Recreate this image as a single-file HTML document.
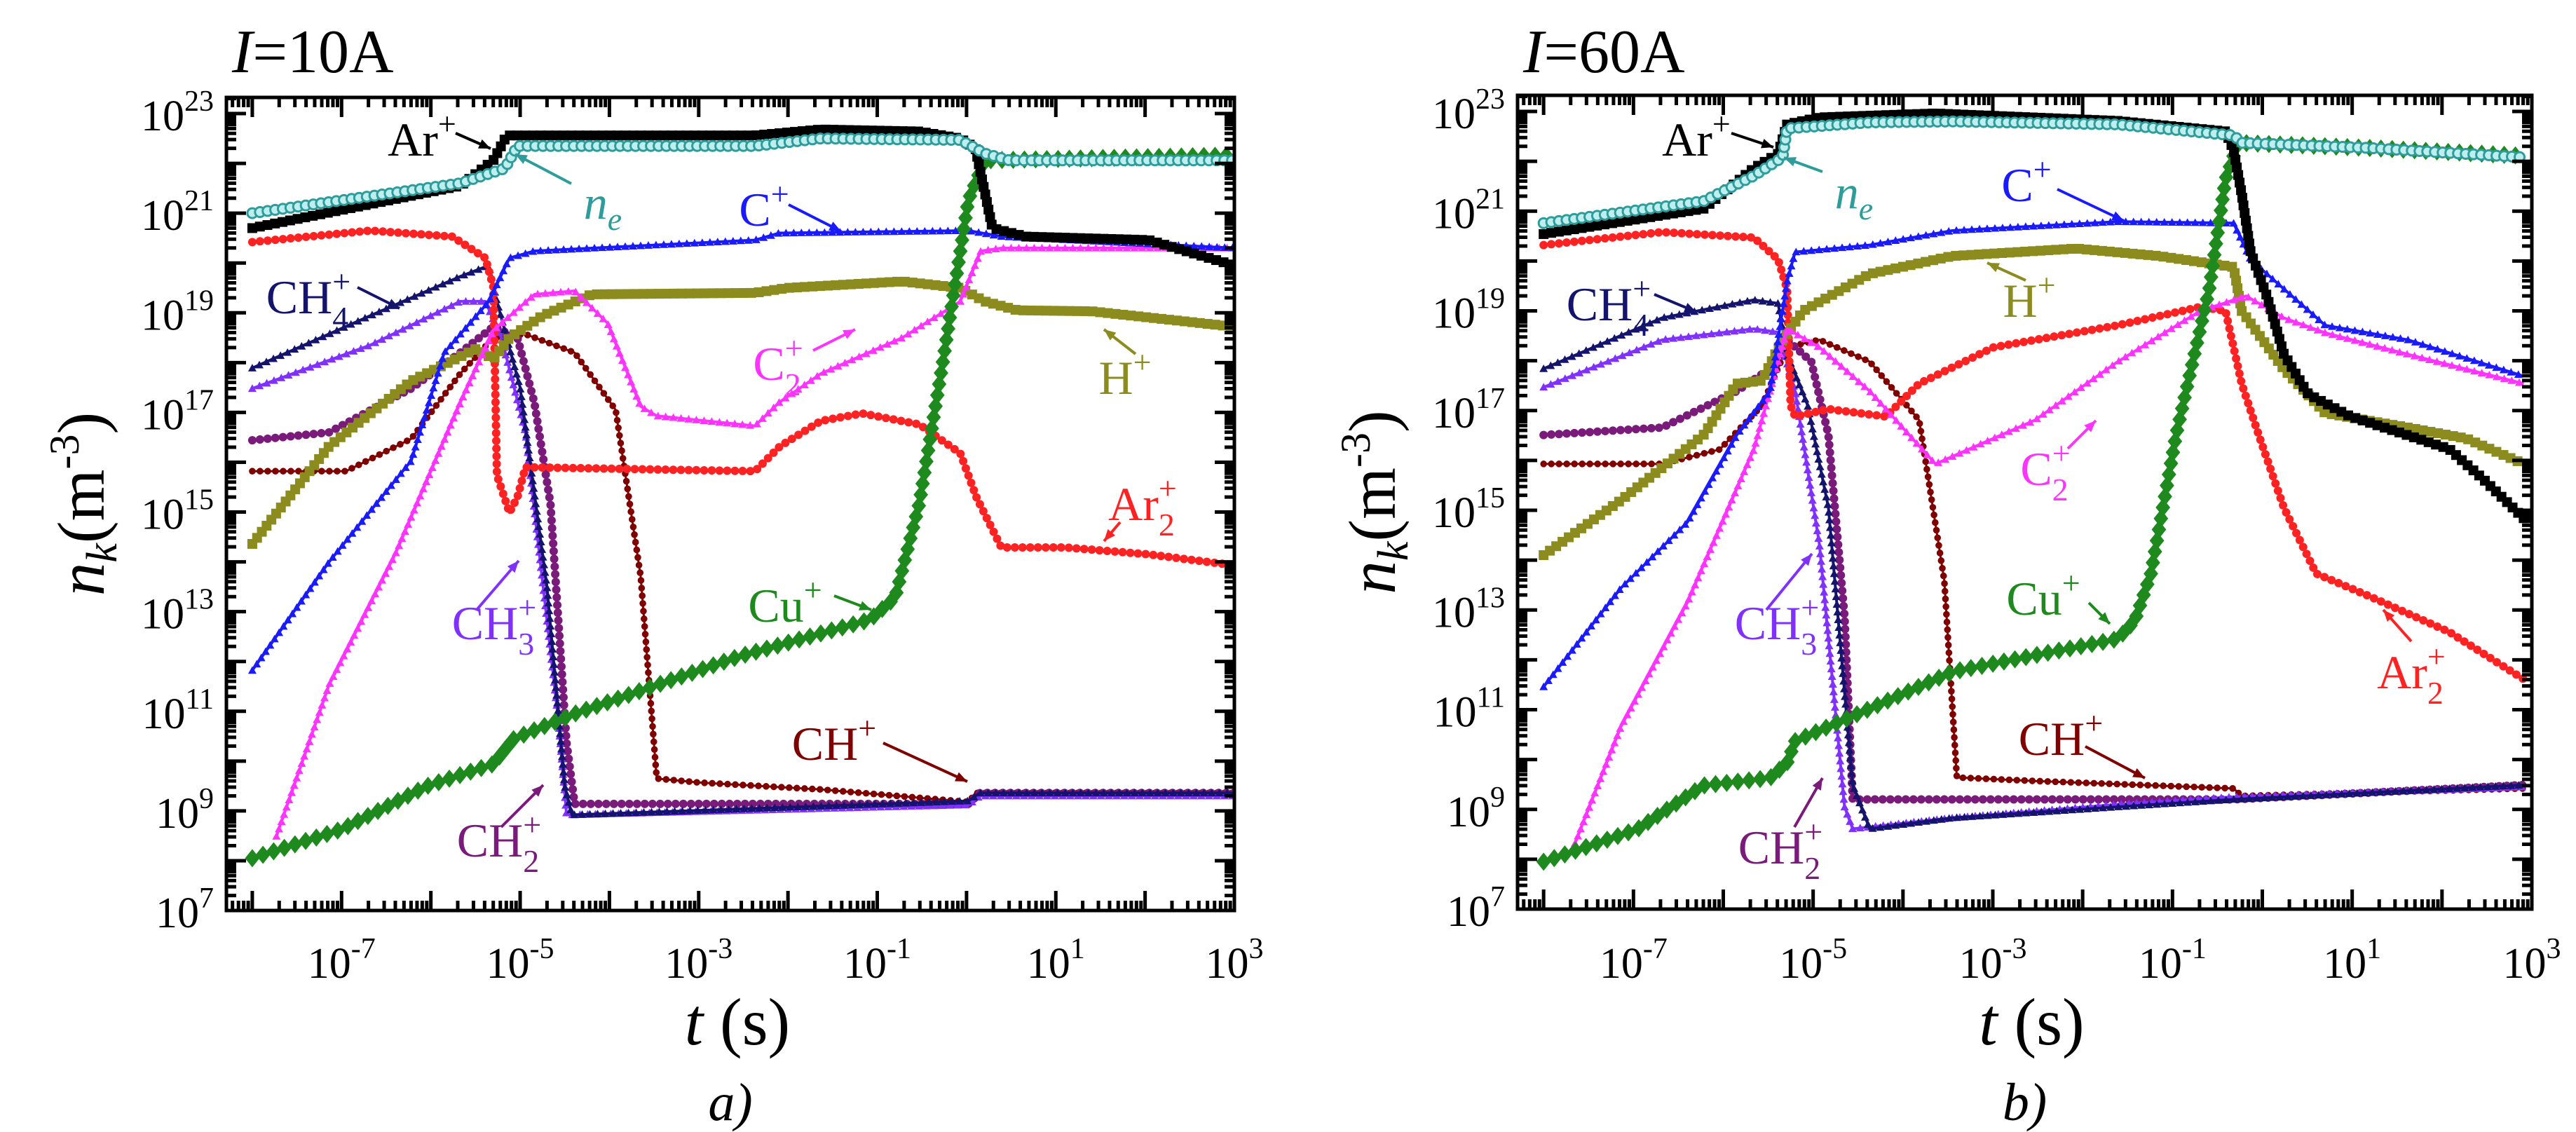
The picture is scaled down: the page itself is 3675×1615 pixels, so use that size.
<!DOCTYPE html>
<html><head><meta charset="utf-8">
<style>
html,body{margin:0;padding:0;background:#fff;}
svg{display:block;}
svg text{font-family:"Liberation Serif","DejaVu Serif",serif;}
</style></head>
<body>
<svg id="fig" xmlns="http://www.w3.org/2000/svg" width="3675" height="1615" viewBox="0 0 3675 1615" font-family="Liberation Serif, DejaVu Serif, serif">
<rect width="3675" height="1615" fill="#fff"/>
</svg>
<script>
// ===== data: [log10 t, log10 n] =====
const a_Arp = [[-8,20.7],[-5.67,21.55],[-5.3,22.06],[-5.15,22.56],[-2.37,22.56],[-1.63,22.68],[-0.53,22.64],[-0.07,22.5],[0.1,22.3],[0.29,20.7],[0.66,20.53],[2.04,20.46],[3,19.95]];
const a_ne = [[-8,21.0],[-5.67,21.6],[-5.17,21.9],[-5.03,22.35],[-2.37,22.35],[-1.63,22.5],[-0.07,22.47],[0.2,22.2],[0.48,22.06],[3,22.06]];
const a_Cu = [[-8,8.05],[-7,8.63],[-6.04,9.5],[-5.3,9.94],[-5.07,10.45],[-4.39,10.95],[-2.55,12.1],[-1.08,12.84],[-0.8,13.28],[-0.53,15.16],[-0.26,18.07],[0.02,21.26],[0.2,22.06],[3,22.16]];
const a_Cp = [[-8,11.82],[-7.14,14.0],[-6.22,16.03],[-5.85,18.2],[-5.35,19.23],[-5.12,20.1],[-4.84,20.24],[-2.37,20.46],[-2.1,20.6],[0.02,20.65],[0.4,20.53],[3,20.3]];
const a_C2 = [[-7.73,8.49],[-7.14,11.53],[-6.4,14.15],[-5.67,17.2],[-5.3,18.65],[-4.84,19.37],[-4.39,19.44],[-4.02,18.79],[-3.65,17.12],[-3.47,16.93],[-2.37,16.73],[-2.1,17.2],[-1.63,17.78],[-0.72,18.5],[-0.07,19.23],[0.16,20.24],[0.4,20.3],[3,20.3]];
const a_H = [[-8,14.36],[-7.14,16.32],[-6.22,17.63],[-5.49,18.28],[-5.3,18.07],[-5.12,18.5],[-4.75,18.94],[-4.2,19.37],[-2.37,19.4],[-2,19.5],[-0.72,19.63],[-0.07,19.5],[0.2,19.23],[0.57,19.05],[1.4,19.03],[3,18.72]];
const a_Ar2 = [[-8,20.42],[-6.68,20.65],[-5.76,20.53],[-5.39,20.1],[-5.3,19.52],[-5.26,15.74],[-5.12,14.99],[-5.03,15.3],[-4.94,15.9],[-2.37,15.82],[-2.09,16.32],[-1.63,16.83],[-1.17,16.98],[-0.53,16.76],[-0.07,16.18],[0.11,15.3],[0.39,14.29],[1.1,14.29],[2.04,14.15],[3,13.93]];
const a_CH4 = [[-8,17.89],[-6.68,18.94],[-5.67,19.73],[-5.35,19.95],[-5.26,19.23],[-5.0,17.5],[-4.7,13.5],[-4.5,9.5],[-4.42,8.92],[0.02,9.2],[0.15,9.36],[3,9.36]];
const a_CH3 = [[-8,17.48],[-6.68,18.35],[-5.67,19.23],[-5.39,19.23],[-5.21,18.5],[-4.94,16.6],[-4.57,10.8],[-4.48,8.92],[0.02,9.12],[0.15,9.3],[3,9.3]];
const a_CH2 = [[-8,16.44],[-7.14,16.6],[-6.22,17.48],[-5.67,18.2],[-5.3,18.72],[-5.03,18.5],[-4.84,17.19],[-4.66,15.16],[-4.48,10.37],[-4.39,9.14],[0.02,9.14],[0.15,9.36],[3,9.36]];
const a_CH = [[-8,15.82],[-6.95,15.82],[-6.22,16.47],[-5.67,17.78],[-5.3,18.5],[-4.94,18.57],[-4.39,18.2],[-3.93,17.05],[-3.65,13.71],[-3.47,9.65],[-3.0,9.57],[-1.63,9.43],[0.02,9.18],[0.11,9.36],[3,9.36]];

const b_Arp = [[-8,20.54],[-6.22,21.05],[-5.66,21.86],[-5.39,22.15],[-5.29,22.74],[-4.93,22.88],[-3.64,22.96],[-1.61,22.81],[-0.41,22.6],[-0.32,22.23],[-0.23,21.35],[-0.13,20.18],[0.05,19.3],[0.24,18.13],[0.51,17.33],[0.97,16.89],[2.08,16.23],[2.45,15.64],[2.91,14.84]];
const b_ne = [[-8,20.76],[-6.22,21.2],[-5.66,21.71],[-5.34,22.08],[-5.29,22.66],[-4.37,22.78],[-3.45,22.8],[-1.61,22.74],[-0.32,22.52],[-0.23,22.37],[1.16,22.27],[2.91,22.08]];
const b_Cu = [[-8,7.95],[-6.96,8.6],[-6.22,9.48],[-5.48,9.63],[-5.29,9.93],[-5.2,10.37],[-4.37,11.02],[-3.45,11.76],[-1.61,12.42],[-1.42,12.78],[-1.24,13.73],[-0.96,16.51],[-0.59,19.44],[-0.41,21.64],[-0.27,22.37],[1.16,22.27],[2.91,22.11]];
const b_Cp = [[-8,11.46],[-7.14,13.44],[-6.4,14.76],[-5.85,16.51],[-5.48,17.39],[-5.29,19.59],[-5.2,20.18],[-4.37,20.32],[-3.45,20.61],[-1.61,20.79],[-0.32,20.76],[-0.13,20.03],[0.24,19.44],[0.7,18.71],[1.62,18.42],[2.91,17.69]];
const b_C2 = [[-7.65,8.32],[-7.14,10.66],[-6.4,13.15],[-5.66,16.22],[-5.29,18.64],[-4.93,18.27],[-4.37,17.39],[-3.64,15.93],[-3.45,16.08],[-2.53,16.81],[-1.61,17.98],[-0.69,19.0],[-0.18,19.3],[0.24,18.86],[0.7,18.56],[1.62,18.13],[2.91,17.54]];
const b_H = [[-8,14.1],[-7.14,15.2],[-6.22,16.51],[-5.85,17.54],[-5.57,17.6],[-5.34,18.42],[-5.11,19.0],[-4.37,19.74],[-3.45,20.1],[-2.07,20.25],[-1.15,20.1],[-0.32,19.88],[-0.23,19.0],[0.24,17.83],[0.7,16.95],[1.62,16.66],[2.27,16.44],[2.91,15.93]];
const b_Ar2 = [[-8,20.32],[-6.68,20.58],[-5.66,20.47],[-5.39,20.03],[-5.29,19.44],[-5.25,17.1],[-5.2,16.88],[-4.83,17.03],[-4.19,16.88],[-3.82,17.54],[-2.99,18.27],[-1.61,18.71],[-0.69,19.08],[-0.41,19.0],[-0.23,17.54],[-0.04,16.51],[0.24,15.05],[0.6,13.73],[1.16,13.3],[2.08,12.56],[2.91,11.61]];
const b_CH4 = [[-8,17.84],[-6.68,18.86],[-5.66,19.22],[-5.39,19.15],[-5.29,18.13],[-5.06,17.1],[-4.83,15.05],[-4.56,9.49],[-4.37,8.61],[-3.45,8.83],[-1.61,9.05],[-0.32,9.2],[2.91,9.49]];
const b_CH3 = [[-8,17.47],[-6.68,18.42],[-5.66,18.64],[-5.39,18.57],[-5.2,17.39],[-4.93,14.32],[-4.65,9.05],[-4.56,8.61],[-3.45,8.83],[-1.61,9.1],[-0.32,9.25],[2.91,9.45]];
const b_CH2 = [[-8,16.51],[-6.68,16.66],[-5.85,17.39],[-5.48,17.84],[-5.29,18.42],[-5.02,17.98],[-4.83,16.51],[-4.65,12.86],[-4.56,9.2],[-0.32,9.2],[2.91,9.49]];
const b_CH = [[-8,15.93],[-6.68,15.93],[-6.04,16.22],[-5.57,17.1],[-5.29,18.27],[-4.93,18.42],[-4.37,17.98],[-3.82,16.81],[-3.54,13.59],[-3.4,9.64],[-2.53,9.57],[-0.32,9.42],[-0.23,9.27],[2.91,9.42]];

const xTickExps = [-7,-5,-3,-1,1,3];
const yTickExps = [7,9,11,13,15,17,19,21,23];

// ===== drawing =====
const NS = "http://www.w3.org/2000/svg";
const svg = document.getElementById('fig');
const FONT = '"Liberation Serif", "DejaVu Serif", serif';
function mk(tag, attrs, parent){
  const e = document.createElementNS(NS, tag);
  for (const k in attrs) e.setAttribute(k, attrs[k]);
  if (tag === 'text') e.style.fontFamily = FONT;
  (parent||svg).appendChild(e);
  return e;
}
const styles = {
  Arp:{c:'#000000',w:5,m:'sq'}, ne:{c:'#2f9c9c',w:5,m:'circ'}, Cu:{c:'#1e8a1e',w:5,m:'dia'},
  Cp:{c:'#1a1aff',w:4,m:'tri'}, C2:{c:'#ff33ff',w:4,m:'tri'}, H:{c:'#8c8c1e',w:5,m:'sq'},
  Ar2:{c:'#ff2222',w:4,m:'circ'}, CH4:{c:'#14146e',w:4,m:'tri'}, CH3:{c:'#8030ff',w:4,m:'tri'},
  CH2:{c:'#7a1a7a',w:4,m:'circ'}, CH:{c:'#800000',w:3,m:'star'}
};
const panels = [
  {id:'a', x0:323, x1:1761, xmin:-8.29, xmax:3, y0:139, y1:1299, title:'=10A', letter:'a)',
   series:{CH:a_CH,CH2:a_CH2,CH3:a_CH3,CH4:a_CH4,Ar2:a_Ar2,H:a_H,C2:a_C2,Cp:a_Cp,Cu:a_Cu,Arp:a_Arp,ne:a_ne},
   labels:[['Ar','+','',602,200,[650,190,700,212]],['n','','e',860,290,[815,262,735,220]],['C','+','',1090,300,[1125,292,1200,330]],
     ['CH','+','4',440,425,[510,410,570,440]],['C','+','2',1110,520,[1160,500,1220,470]],['H','+','',1605,540,[1620,505,1575,470]],
     ['Ar','+','2',1630,720,[1598,745,1575,772]],['Cu','+','',1120,865,[1190,850,1243,870]],['CH','+','3',705,890,[680,870,740,800]],
     ['CH','+','',1190,1062,[1260,1060,1380,1115]],['CH','+','2',712,1200,[715,1180,775,1120]]]},
  {id:'b', x0:2165, x1:3612, xmin:-8.29, xmax:3, y0:136, y1:1297, title:'=60A', letter:'b)',
   series:{CH:b_CH,CH2:b_CH2,CH3:b_CH3,CH4:b_CH4,Ar2:b_Ar2,H:b_H,C2:b_C2,Cp:b_Cp,Cu:b_Cu,Arp:b_Arp,ne:b_ne},
   labels:[['Ar','+','',2420,200,[2470,190,2530,210]],['n','','e',2645,275,[2600,245,2545,225]],['C','+','',2891,265,[2935,270,3030,315]],
     ['H','+','',2895,430,[2890,400,2835,375]],['CH','+','4',2295,435,[2360,420,2420,445]],['C','+','2',2918,670,[2950,640,2990,600]],
     ['Cu','+','',2915,855,[2980,860,3010,890]],['CH','+','3',2535,890,[2520,870,2585,790]],['Ar','+','2',3440,960,[3440,915,3400,870]],
     ['CH','+','',2940,1055,[2975,1065,3060,1110]],['CH','+','2',2540,1210,[2560,1180,2600,1110]]]}
];

panels.forEach(p => {
  const g = mk('g', {});
  
  
  const X = v => p.x0 + (v - p.xmin) / (p.xmax - p.xmin) * (p.x1 - p.x0);
  const dec = (p.y1 - (p.id==='a'?162:159)) / 16;
  const Yv = v => p.y1 - (v - 7) * dec;
  const clip = mk('clipPath', {id:'clip-'+p.id}, g);
  mk('rect', {x:p.x0, y:p.y0, width:p.x1-p.x0, height:p.y1-p.y0}, clip);
  const sg = mk('g', {'clip-path':'url(#clip-'+p.id+')'}, g);
  
  
  Object.keys(p.series).forEach(k => {
    const st = styles[k];
    const pts = p.series[k];
    const pl = mk('polyline', {points: pts.map(d => X(d[0]).toFixed(1)+','+Yv(d[1]).toFixed(1)).join(' '),
      fill:'none', stroke:st.c, 'stroke-width':st.w, 'stroke-linejoin':'round'}, sg);
    
    
    const spacing = k==='Cu' ? 16 : 11;
    const ms = k==='Cu' ? 13 : (k==='Arp'||k==='ne'||k==='H' ? 7 : 6);
    let carry = 0;
    for (let i=1;i<pts.length;i++){
      const ax=X(pts[i-1][0]), ay=Yv(pts[i-1][1]), bx=X(pts[i][0]), by=Yv(pts[i][1]);
      const L=Math.hypot(bx-ax,by-ay); let s=carry;
      while(s<L){
        const cx=ax+(bx-ax)*s/L, cy=ay+(by-ay)*s/L;
        let m;
        if(st.m==='sq') m=mk('rect',{x:cx-ms,y:cy-ms,width:2*ms,height:2*ms,fill:st.c},sg);
        else if(st.m==='circ') m=mk('circle',{cx:cx,cy:cy,r:ms,fill:k==='ne'?'#bfeeee':st.c,stroke:st.c,'stroke-width':k==='ne'?3:0},sg);
        else if(st.m==='dia') m=mk('polygon',{points:`${cx},${cy-ms} ${cx+ms*0.8},${cy} ${cx},${cy+ms} ${cx-ms*0.8},${cy}`,fill:st.c},sg);
        else if(st.m==='tri') m=mk('polygon',{points:`${cx},${cy-ms} ${cx+ms},${cy+ms*0.8} ${cx-ms},${cy+ms*0.8}`,fill:st.c},sg);
        else m=mk('circle',{cx:cx,cy:cy,r:ms*0.8,fill:st.c},sg);
        
        
        s+=spacing;
      }
      carry=s-L;
    }
  });
  const fr = mk('rect', {x:p.x0, y:p.y0, width:p.x1-p.x0, height:p.y1-p.y0, fill:'none', stroke:'#000', 'stroke-width':5}, g);
  
  
  let tk='';
  for (let e=-9;e<=3;e++){
    for (let m=1;m<10;m++){
      const v=e+Math.log10(m); if(v<p.xmin||v>p.xmax) continue;
      const x=X(v), L=m===1?28:14;
      tk+=`M${x},${p.y1}v${-L}M${x},${p.y0}v${L}`;
    }
  }
  for (let e=7;e<=23;e++){
    for (let m=1;m<10;m++){
      const v=e+Math.log10(m); const y=Yv(v); if(y<p.y0) continue;
      const L=m===1?28:14;
      tk+=`M${p.x0},${y}h${L}M${p.x1},${y}h${-L}`;
    }
  }
  const tp = mk('path', {d:tk, stroke:'#000', 'stroke-width':5, fill:'none'}, g);
  
  
  xTickExps.forEach(e => {
    const t = mk('text', {x:X(e), y:1395, 'font-size':62, 'text-anchor':'middle'}, g);
    
    
    t.innerHTML = `10<tspan dy="-28" font-size="42">${e}</tspan>`;
  });
  yTickExps.forEach(e => {
    const t = mk('text', {x:p.x0-18, y:Yv(e)+24, 'font-size':62, 'text-anchor':'end'}, g);
    
    
    t.innerHTML = `10<tspan dy="-28" font-size="42">${e}</tspan>`;
  });
  const ti = mk('text', {x:p.x0+8, y:103, 'font-size':88}, g);
  
  
  ti.innerHTML = `<tspan font-style="italic">I</tspan>${p.title}`;
  const xt = mk('text', {x:(p.x0+p.x1)/2+10, y:1490, 'font-size':95, 'text-anchor':'middle'}, g);
  
  
  xt.innerHTML = `<tspan font-style="italic">t</tspan> (s)`;
  const yt = mk('text', {x:0, y:0, 'font-size':95, 'text-anchor':'middle', transform:`translate(${p.x0-175},${(p.y0+p.y1)/2}) rotate(-90)`}, g);
  
  
  yt.innerHTML = `<tspan font-style="italic">n</tspan><tspan font-style="italic" font-size="62" dy="18">k</tspan><tspan dy="-18">(m</tspan><tspan font-size="60" dy="-36">-3</tspan><tspan dy="36">)</tspan>`;
  const lt = mk('text', {x:(p.x0+p.x1)/2, y:1598, 'font-size':76, 'font-style':'italic', 'text-anchor':'middle'}, g);
  
  
  lt.textContent = p.letter;
  p.labels.forEach(L => {
    const [base, sup, sub, x, y, ar] = L;
    const col = styles[{'Ar+':'Arp','ne':'ne','C+':'Cp','CH+4':'CH4','C+2':'C2','H+':'H','Ar+2':'Ar2','Cu+':'Cu','CH+3':'CH3','CH+':'CH','CH+2':'CH2'}[base+sup+sub]].c;
    const t = mk('text', {x:x, y:y+22, 'font-size':68, 'text-anchor':'middle', fill:col}, g);
    
    
    let h = base==='n' ? `<tspan font-style="italic">n</tspan>` : base;
    if (sup && sub) h += `<tspan font-size="46" dy="-30">${sup}</tspan><tspan font-size="46" dx="-26" dy="52">${sub}</tspan>`;
    else if (sup) h += `<tspan font-size="46" dy="-30">${sup}</tspan>`;
    else if (sub) h += `<tspan font-size="46" font-style="italic" dy="16">${sub}</tspan>`;
    t.innerHTML = h;
    const a = mk('line', {x1:ar[0], y1:ar[1], x2:ar[2], y2:ar[3], stroke:col, 'stroke-width':4}, g);
    
    
    const ang = Math.atan2(ar[3]-ar[1], ar[2]-ar[0]);
    const hx = ar[2], hy = ar[3], s = 18;
    const head = mk('polygon', {points:`${hx},${hy} ${hx-s*Math.cos(ang-0.4)},${hy-s*Math.sin(ang-0.4)} ${hx-s*Math.cos(ang+0.4)},${hy-s*Math.sin(ang+0.4)}`, fill:col}, g);
    
    
  });
});
</script>
</body></html>
